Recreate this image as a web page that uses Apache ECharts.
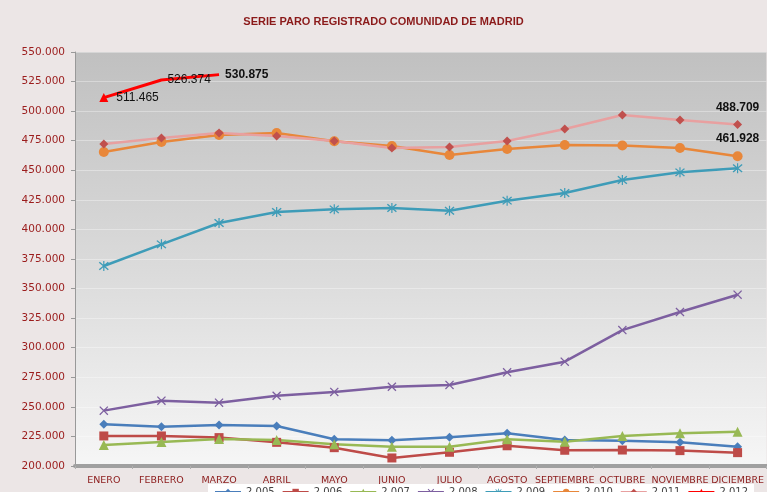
<!DOCTYPE html>
<html>
<head>
<meta charset="utf-8">
<script src="https://cdn.jsdelivr.net/npm/echarts@6/dist/echarts.min.js"></script>
<style>
html,body{margin:0;padding:0;background:#ece6e6;}
#chart{width:767px;height:492px;}
</style>
</head>
<body>
<div id="chart"></div>
<script>
const categories = ['ENERO','FEBRERO','MARZO','ABRIL','MAYO','JUNIO','JULIO','AGOSTO','SEPTIEMBRE','OCTUBRE','NOVIEMBRE','DICIEMBRE'];
const seriesNames = ['2.005','2.006','2.007','2.008','2.009','2.010','2.011','2.012'];
const s2005 = [235200,233200,234600,233800,222600,221700,224300,227600,222000,221400,220000,216300];
const s2006 = [225400,225400,224000,220000,215500,206800,211600,217100,213300,213500,213000,211300];
const s2007 = [217800,220300,222800,222000,218400,216300,216300,222600,220600,225400,227600,229000];
const s2008 = [246800,255200,253500,259400,262600,267000,268500,279200,288200,314900,330200,344800];
const s2009 = [369100,387400,405400,414700,417000,418100,415800,424300,430800,441800,448300,451700];
const s2010 = [465500,474000,479800,481500,474500,470500,462900,468000,471400,471000,468800,461928];
const s2011 = [472200,477300,481500,479000,474800,468800,469700,474800,484900,496700,492500,488709];
const s2012 = [511465,526374,530875];
const yMin = 200000, yMax = 550000, yStep = 25000;

function fmt(v){ return String(Math.round(v)).replace(/\B(?=(\d{3})+(?!\d))/g,'.'); }

const X_PATH = 'path://M0,1L1,0L5,4L9,0L10,1L6,5L10,9L9,10L5,6L1,10L0,9L4,5Z';
const STAR_PATH = 'path://M0,1L1,0L5,4L9,0L10,1L6,5L10,9L9,10L5,6L1,10L0,9L4,5Z M4.4,-1L5.6,-1L5.6,11L4.4,11Z';

function line(name, data, color, symbol, size, extra){
  return Object.assign({
    name: name, type:'line', data: data,
    symbol: symbol, symbolSize: size,
    lineStyle:{color: color, width: 2.5},
    itemStyle:{color: color},
    z: 3
  }, extra||{});
}

const boldLbl = {show:true, position:'top', distance:6, fontFamily:'Liberation Sans, Arial, sans-serif', fontSize:12, fontWeight:'bold', color:'#111', formatter: p => fmt(p.value)};

const d2010 = s2010.map((v,i)=> i===s2010.length-1 ? {value:v, label: boldLbl} : v);
const d2011 = s2011.map((v,i)=> i===s2011.length-1 ? {value:v, label: boldLbl} : v);
const d2012 = s2012.map((v,i)=> ({
  value: v,
  symbol: 'triangle',
  symbolSize: i===0 ? 9 : 0.01,
  label: {show:true, position:'right', distance: i===0?8:6, fontFamily:'Liberation Sans, Arial, sans-serif', fontSize:12,
          fontWeight: i===s2012.length-1 ? 'bold':'normal', color:'#111', formatter: p => fmt(p.value)}
}));

const chart = echarts.init(document.getElementById('chart'), null, {renderer:'canvas'});
chart.setOption({
  backgroundColor:'#ece6e6',
  animation:false,
  title:{
    text:'SERIE PARO REGISTRADO COMUNIDAD DE MADRID',
    left:'center', top:11,
    textStyle:{color:'#8b1a1a', fontSize:11, fontWeight:'bold', fontFamily:'Liberation Sans Narrow, Arial Narrow, sans-serif'}
  },
  legend:{
    data: seriesNames,
    top: 484, left: 208,
    backgroundColor:'#ffffff',
    padding:[3,6,3,6],
    itemWidth: 26, itemHeight: 8, itemGap: 7,
    textStyle:{color:'#444', fontSize:10, fontFamily:'DejaVu Sans, sans-serif'}
  },
  grid:{
    left:75, right:0, top:52, bottom:26,
    show:true, borderWidth:0,
    backgroundColor:{type:'linear', x:0, y:0, x2:0, y2:1, colorStops:[
      {offset:0, color:'#c0c0c0'},
      {offset:0.55, color:'#dcdcdc'},
      {offset:1, color:'#f6f6f6'}
    ]}
  },
  xAxis:{
    type:'category', data: categories, boundaryGap:true,
    axisLine:{lineStyle:{color:'#a0a0a0', width:4}},
    axisTick:{show:true, length:3, lineStyle:{color:'#b0b0b0', width:1}},
    axisLabel:{color:'#8b1a1a', fontSize:9.5, interval:0, margin:10, fontFamily:'DejaVu Sans, sans-serif'}
  },
  yAxis:{
    type:'value', min:yMin, max:yMax, interval:yStep,
    axisLine:{show:true, lineStyle:{color:'#999', width:1}},
    axisTick:{show:true, length:4, lineStyle:{color:'#999'}},
    axisLabel:{color:'#9b1c1c', fontSize:10.5, margin:10, fontFamily:'DejaVu Sans, sans-serif', formatter: v => fmt(v)},
    splitLine:{show:true, lineStyle:{color:'rgba(255,255,255,0.35)', width:1}}
  },
  series:[
    line(seriesNames[0], s2005, '#4a7ebb', 'diamond', 9),
    line(seriesNames[1], s2006, '#be4b48', 'rect', 9),
    line(seriesNames[2], s2007, '#98b954', 'triangle', 10),
    line(seriesNames[3], s2008, '#7d5fa0', X_PATH, 9),
    line(seriesNames[4], s2009, '#3e9cb8', STAR_PATH, 10),
    line(seriesNames[5], d2010, '#e8873a', 'circle', 10),
    line(seriesNames[6], d2011, '#c0504d', 'diamond', 9, {lineStyle:{color:'#e8a0a0', width:2.5}}),
    line(seriesNames[7], d2012, '#ff0000', 'triangle', 9, {lineStyle:{color:'#ff0000', width:3}})
  ]
});
</script>
</body>
</html>
